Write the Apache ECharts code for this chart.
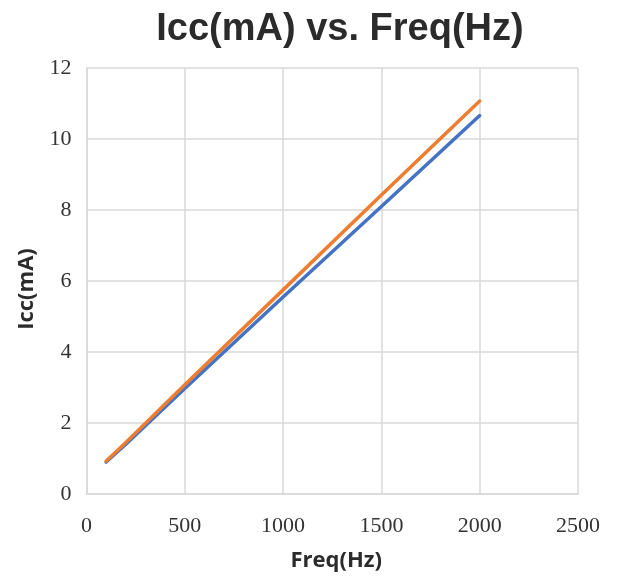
<!DOCTYPE html>
<html>
<head>
<meta charset="utf-8">
<script src="https://cdn.jsdelivr.net/npm/echarts@6/dist/echarts.min.js"></script>
<style>html,body{margin:0;padding:0;background:#fff;}#c{width:618px;height:579px;}</style>
</head>
<body>
<div id="c"></div>
<script>
var freqHz = [100, 200, 500, 1000, 1500, 2000];
var iccBlue = [0.90, 1.40, 2.97, 5.55, 8.10, 10.66];
var iccOrange = [0.93, 1.45, 3.08, 5.75, 8.42, 11.07];
var xTicks = [0, 500, 1000, 1500, 2000, 2500];
var yTicks = [0, 2, 4, 6, 8, 10, 12];

function pairs(xs, ys) { return xs.map(function (x, i) { return [x, ys[i]]; }); }

var chart = echarts.init(document.getElementById('c'));
var gridColor = '#d9d9d9';
chart.setOption({
  animation: false,
  backgroundColor: '#ffffff',
  title: {
    text: 'Icc(mA) vs. Freq(Hz)',
    left: 335, textAlign: 'center', top: 6,
    textStyle: { fontFamily: 'Liberation Sans', fontWeight: 'bold', fontSize: 38, color: '#2b2b2b' }
  },
  grid: { left: 86.5, right: 40, top: 68, bottom: 85 },
  xAxis: {
    type: 'value', min: xTicks[0], max: xTicks[xTicks.length - 1], interval: 500,
    name: 'Freq(Hz)', nameLocation: 'middle', nameGap: 56,
    nameTextStyle: { fontFamily: 'Open Sans', fontWeight: 'bold', fontSize: 22, color: '#2b2b2b', padding: [0, 0, 0, 8] },
    axisLine: { show: true, lineStyle: { color: gridColor, width: 1.5 } },
    axisTick: { show: false },
    axisLabel: { fontFamily: 'Liberation Serif', fontSize: 22, color: '#333', margin: 21,
      formatter: function (v) { return String(v); } },
    splitLine: { show: true, lineStyle: { color: gridColor, width: 1.5 } }
  },
  yAxis: {
    type: 'value', min: yTicks[0], max: yTicks[yTicks.length - 1], interval: 2,
    name: 'Icc(mA)', nameLocation: 'middle', nameGap: 49,
    nameTextStyle: { fontFamily: 'Open Sans', fontWeight: 'bold', fontSize: 22, color: '#2b2b2b', padding: [0, 16, 0, 0] },
    axisLine: { show: true, lineStyle: { color: gridColor, width: 1.5 } },
    axisTick: { show: false },
    axisLabel: { fontFamily: 'Liberation Serif', fontSize: 22, color: '#333', margin: 15,
      formatter: function (v) { return String(v); } },
    splitLine: { show: true, lineStyle: { color: gridColor, width: 1.5 } }
  },
  series: [
    { type: 'line', data: pairs(freqHz, iccBlue), showSymbol: false, symbol: 'none',
      lineStyle: { color: '#4472C4', width: 3.5, cap: 'round' }, itemStyle: { color: '#4472C4' }, z: 2 },
    { type: 'line', data: pairs(freqHz, iccOrange), showSymbol: false, symbol: 'none',
      lineStyle: { color: '#ED7D31', width: 3.5, cap: 'round' }, itemStyle: { color: '#ED7D31' }, z: 3 }
  ]
});
</script>
</body>
</html>
